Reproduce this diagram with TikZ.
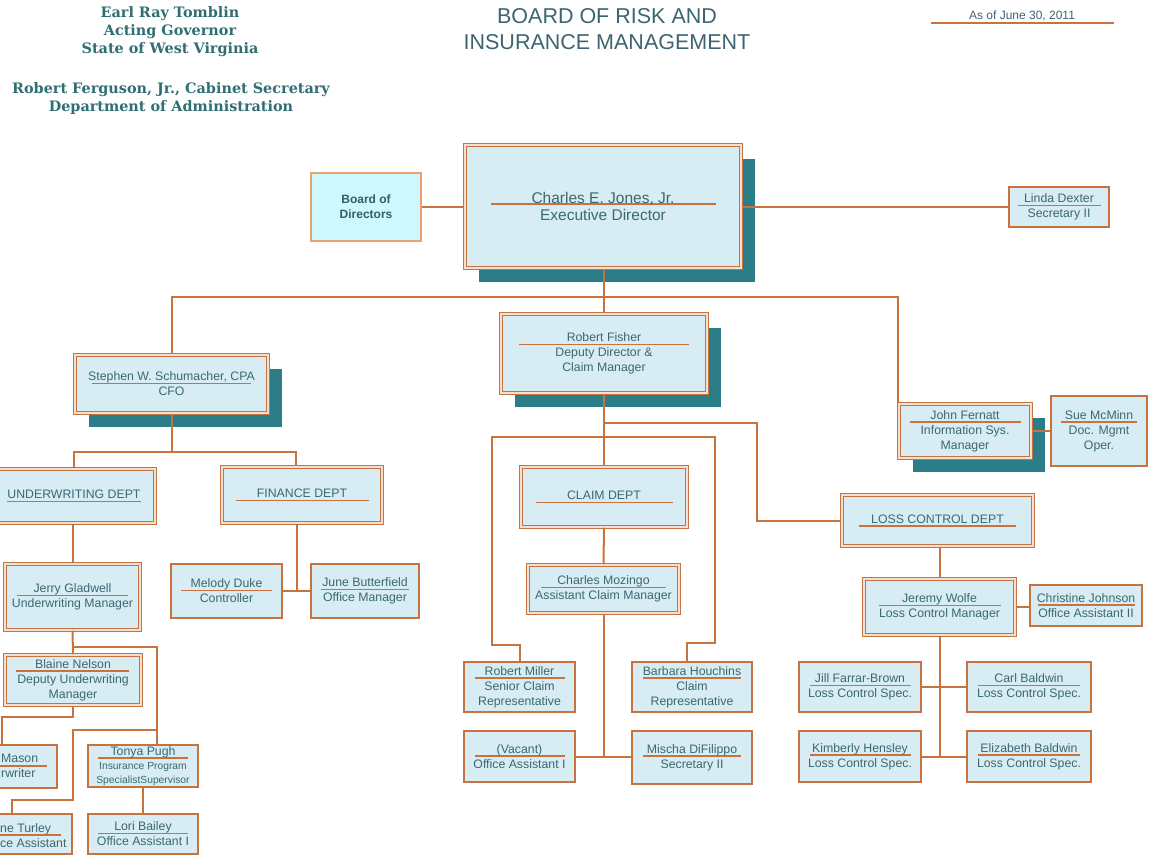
\documentclass[tikz,border=0pt]{standalone}
\usepackage{fontspec}
\setmainfont{Liberation Sans}
\newfontfamily\hdrfont{DejaVu Serif}
\usetikzlibrary{shadows}

\definecolor{oline}{HTML}{C8733D}
\definecolor{boxfill}{HTML}{D8ECF3}
\definecolor{boxtext}{HTML}{3A6873}
\definecolor{tealshadow}{HTML}{2B7E88}
\definecolor{hdrteal}{HTML}{2F6E72}
\definecolor{titletext}{HTML}{3D6470}
\definecolor{boardfill}{HTML}{CFF8FC}
\definecolor{boardline}{HTML}{EBA273}
\definecolor{boardtext}{HTML}{305F6C}

% name with the orange rule under it
\newsavebox\unamebox
\newcommand{\uname}[3][-3.5pt]{\sbox\unamebox{#3}\makebox[\wd\unamebox]{\makebox[0pt]{\textcolor{oline}{\rule[#1]{#2pt}{1.5pt}}}}\hspace{-\wd\unamebox}\usebox\unamebox}

\tikzset{
  box/.style={draw=oline, line width=2pt, fill=boxfill, text=boxtext, align=center,
    inner sep=0pt, font=\fontsize{12.3}{15}\selectfont},
  dbox/.style={box, line width=1.5pt, double=oline!22, double distance=1.2pt},
  shadowed/.style={drop shadow={shadow xshift=14pt, shadow yshift=-14pt, fill=tealshadow, opacity=1}},
  sz/.style 2 args={minimum width=#1, minimum height=#2},
  link/.style={draw=oline, line width=2pt},
  nameline/.style={draw=oline, line width=1.5pt},
  hdr/.style={text=hdrteal, align=center, font=\hdrfont\bfseries\fontsize{14.4}{18}\selectfont},
  cut/.style={text=boxtext, align=left, anchor=west, inner sep=0pt, font=\fontsize{12.3}{15}\selectfont},
}

\begin{document}
\begin{tikzpicture}[x=1pt,y=-1pt]
  \useasboundingbox (0,0) rectangle (1149,856);

  % heading
  \node[hdr] (gov) at (170,32) {Earl Ray Tomblin\\Acting Governor\\State of West Virginia};
  \node[hdr] (sec) at (171,99) {Robert Ferguson, Jr., Cabinet Secretary\\Department of Administration};
  \node[text=titletext, align=center, font=\fontsize{21.5}{26}\selectfont] (brim) at (607,29) {BOARD OF RISK AND\\INSURANCE MANAGEMENT};
  \node[text=titletext, inner sep=0pt, font=\fontsize{12}{15}\selectfont] (asof) at (1022,17) {\uname[-4.5pt]{183}{As of June 30, 2011}};

  % top row
  \node[box, sz={110}{68}, fill=boardfill, draw=boardline, text=boardtext,
    font=\bfseries\fontsize{12}{15}\selectfont] (board) at (366,207) {Board of\\Directors};
  \node[dbox, shadowed, sz={276}{123}, font=\fontsize{15.5}{17}\selectfont] (exec) at (603,206.5)
    {\uname[-1pt]{225}{Charles E. Jones, Jr.}\\Executive Director};
  \node[box, sz={100}{40}] (linda) at (1059,207) {\uname{83}{Linda Dexter}\\Secretary II};

  % second row
  \node[dbox, shadowed, sz={193}{58}] (cfo) at (171.5,384) {\uname{159}{Stephen W. Schumacher, CPA}\\CFO};
  \node[dbox, shadowed, sz={206}{79}] (fisher) at (604,353.5) {\uname{170}{Robert Fisher}\\Deputy Director \&\\Claim Manager};
  \node[dbox, shadowed, sz={132}{54}] (fernatt) at (965,431) {\uname{111}{John Fernatt}\\Information Sys.\\Manager};
  \node[box, sz={96}{70}] (sue) at (1099,431) {\uname{76}{Sue McMinn}\\Doc. Mgmt\\Oper.};

  % finance and underwriting
  \node[dbox, sz={162}{54}] (uwdept) at (74,496) {\uname{134}{UNDERWRITING DEPT}};
  \node[dbox, sz={160}{56}] (findept) at (302,495) {\uname{133}{FINANCE DEPT}};
  \node[dbox, sz={135}{66}] (gladwell) at (72.5,597) {\uname{111}{Jerry Gladwell}\\Underwriting Manager};
  \node[box, sz={111}{54}] (melody) at (226.5,591) {\uname{91}{Melody Duke}\\Controller};
  \node[box, sz={108}{54}] (june) at (365,591) {\uname{88}{June Butterfield}\\Office Manager};
  \node[dbox, sz={136}{50}] (blaine) at (73,680) {\uname{113}{Blaine Nelson}\\Deputy Underwriting\\Manager};
  \node[box, sz={110}{43}] (mason) at (2,766.5) {};
  \node[cut] (masontext) at (1,766) {Mason\\rwriter};
  \draw[nameline] (-45,766) -- (47,766);
  \node[box, sz={110}{42}, font=\fontsize{12.3}{14}\selectfont] (tonya) at (143,766)
    {\uname{90}{Tonya Pugh}\\{\fontsize{10.3}{14}\selectfont Insurance Program}\\{\fontsize{10.3}{14}\selectfont SpecialistSupervisor}};
  \node[box, sz={121}{40}] (turley) at (11.5,834) {};
  \node[cut] (turleytext) at (0,835.5) {ne Turley\\ce Assistant};
  \draw[nameline] (-45,835) -- (61,835);
  \node[box, sz={110}{40}] (lori) at (143,834) {\uname{90}{Lori Bailey}\\Office Assistant I};

  % claim
  \node[dbox, sz={166}{60}] (claimdept) at (604,497) {\uname{137}{CLAIM DEPT}};
  \node[dbox, sz={151}{48}] (mozingo) at (603.5,589) {\uname{125}{Charles Mozingo}\\Assistant Claim Manager};
  \node[box, sz={111}{50}] (miller) at (519.5,687) {\uname{90}{Robert Miller}\\Senior Claim\\Representative};
  \node[box, sz={120}{50}] (barbara) at (692,687) {\uname{98}{Barbara Houchins}\\Claim\\Representative};
  \node[box, sz={111}{51}] (vacant) at (519.5,756.5) {\uname{90}{(Vacant)}\\Office Assistant I};
  \node[box, sz={120}{53}] (mischa) at (692,757.5) {\uname{98}{Mischa DiFilippo}\\Secretary II};

  % loss control
  \node[dbox, sz={191}{51}] (lossdept) at (937.5,520.5) {\uname{157}{LOSS CONTROL DEPT}};
  \node[dbox, sz={151}{56}] (wolfe) at (939.5,607) {\uname{122}{Jeremy Wolfe}\\Loss Control Manager};
  \node[box, sz={112}{41}] (christine) at (1086,605.5) {\uname{97}{Christine Johnson}\\Office Assistant II};
  \node[box, sz={122}{50}] (jill) at (860,687) {\uname{101}{Jill Farrar-Brown}\\Loss Control Spec.};
  \node[box, sz={124}{50}] (carl) at (1029,687) {\uname{102}{Carl Baldwin}\\Loss Control Spec.};
  \node[box, sz={122}{51}] (kimberly) at (860,756.5) {\uname{101}{Kimberly Hensley}\\Loss Control Spec.};
  \node[box, sz={124}{51}] (elizabeth) at (1029,756.5) {\uname{102}{Elizabeth Baldwin}\\Loss Control Spec.};

  % connectors
  \coordinate (bus) at (604,297);
  \coordinate (cfobus) at (171.5,452);
  \coordinate (finjoin) at (296.5,591);
  \draw[link] (board.east) -- (board.east -| exec.west);
  \draw[link] (exec.east) -- (exec.east -| linda.west);
  \draw[link] (fisher.north) -- (fisher.north |- exec.south);
  \draw[link] (cfo.north) |- (bus) -| (fernatt.north west);
  \draw[link] (fernatt.east) -- (sue.west);
  \draw[link] (cfo.south) -- (cfobus);
  \draw[link] (uwdept.north) |- (cfobus) -| ([xshift=-6]findept.north);
  \draw[link] (gladwell.north) -- (gladwell.north |- uwdept.south);
  \draw[link] (melody.east) -- (june.west);
  \draw[link] (finjoin) -- (finjoin |- findept.south);
  \draw[link] (gladwell.south) -- (blaine.north);
  \draw[link] (gladwell.south |- 0,647) -| ([xshift=14]tonya.north);
  \draw[link] ([xshift=14]tonya.north |- 0,730) -- (73,730) -- (73,800) -| (turley.north);
  \draw[link] (blaine.south) -- (73,717) -| (mason.north);
  \draw[link] (tonya.south) -- (lori.north);
  \draw[link] (fisher.south) -- (claimdept.north);
  \draw[link] (claimdept.south) -- (mozingo.north);
  \draw[link] (mozingo.south) -- (mozingo.south |- vacant.east);
  \draw[link] (vacant.east) -- (vacant.east -| mischa.west);
  \draw[link] (fisher.south |- 0,423) -| (757,520.5) -- (lossdept.west);
  \draw[link] (miller.north) |- (492,645) -- (492,437) -- (715,437) -- (715,643) -| ([xshift=-5]barbara.north);
  \draw[link] (wolfe.north) -- (wolfe.north |- lossdept.south);
  \draw[link] (wolfe.east) -- (wolfe.east -| christine.west);
  \draw[link] (wolfe.south) -- (wolfe.south |- kimberly.east);
  \draw[link] (jill.east) -- (carl.west);
  \draw[link] (kimberly.east) -- (elizabeth.west);
\end{tikzpicture}
\end{document}
